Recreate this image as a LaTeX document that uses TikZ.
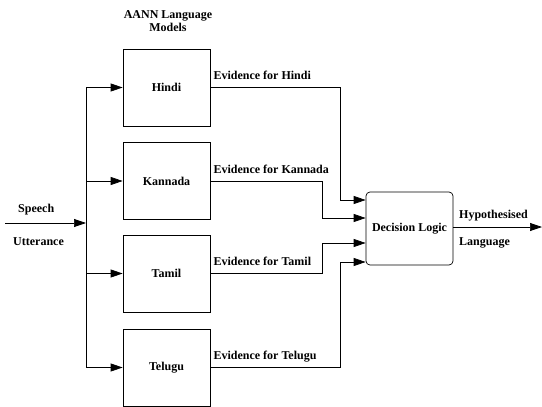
\documentclass[tikz,border=0pt]{standalone}
\usepackage{fontspec}
\setmainfont{Liberation Serif}
\usetikzlibrary{arrows.meta}
\begin{document}
\begin{tikzpicture}[x=1pt,y=-1pt,
  every node/.style={font=\fontsize{12}{13}\selectfont\bfseries},
  lbox/.style={draw,line width=0.7pt,minimum width=87pt,minimum height=77pt,inner sep=0pt},
  dbox/.style={draw,line width=0.7pt,rounded corners=4pt,minimum width=87pt,minimum height=73pt,inner sep=0pt},
  wire/.style={line width=0.7pt},
  arr/.style={wire,-{Triangle[length=12pt,width=8pt]}},
  lab/.style={anchor=base west,inner sep=0pt}]
\useasboundingbox (0,0) rectangle (542,407);
% boxes
\node[lbox] (hindi) at (166.5,87.5) {Hindi};
\node[lbox] (kannada) at (166.5,181) {Kannada};
\node[lbox] (tamil) at (166.5,273.5) {Tamil};
\node[lbox] (telugu) at (166.5,367.5) {Telugu};
\node[dbox] (dl) at (409.5,228.5) {Decision Logic};
% titles
\node[inner sep=0pt,align=center,font=\fontsize{12}{13.5}\selectfont\bfseries] (title) at (168,21) {AANN Language\\Models};
% input
\coordinate (src) at (5,223);
\coordinate (junc) at (86,223);
\coordinate (t1) at (86,87.5);
\coordinate (t2) at (86,181);
\coordinate (t3) at (86,273.5);
\coordinate (t4) at (86,367.5);
\draw[arr] (src) -- (junc);
\node[lab] (speech) at (18,212) {Speech};
\node[lab] (utt) at (13,245) {Utterance};
\draw[wire] (t1) -- (t4);
\draw[arr] (t1) -- (hindi.west);
\draw[arr] (t2) -- (kannada.west);
\draw[arr] (t3) -- (tamil.west);
\draw[arr] (t4) -- (telugu.west);
% outputs
\coordinate (b1) at (340,200);
\coordinate (b2) at (322,218);
\coordinate (b3) at (322,243);
\coordinate (b4) at (340,262);
\draw[arr] (hindi.east) -| (b1) -- (b1 -| dl.west);
\draw[arr] (kannada.east) -| (b2) -- (b2 -| dl.west);
\draw[arr] (tamil.east) -| (b3) -- (b3 -| dl.west);
\draw[arr] (telugu.east) -| (b4) -- (b4 -| dl.west);
\node[lab] (e1) at ([xshift=3pt,yshift=8pt]hindi.east) {Evidence for Hindi};
\node[lab] (e2) at ([xshift=3pt,yshift=8pt]kannada.east) {Evidence for Kannada};
\node[lab] (e3) at ([xshift=3pt,yshift=8pt]tamil.east) {Evidence for Tamil};
\node[lab] (e4) at ([xshift=3pt,yshift=8pt]telugu.east) {Evidence for Telugu};
% final output
\coordinate (out) at (542,227);
\draw[arr] (dl.east |- out) -- (out);
\node[lab] (hyp) at (459,218) {Hypothesised};
\node[lab] (lang) at (459,245) {Language};
\end{tikzpicture}
\end{document}
